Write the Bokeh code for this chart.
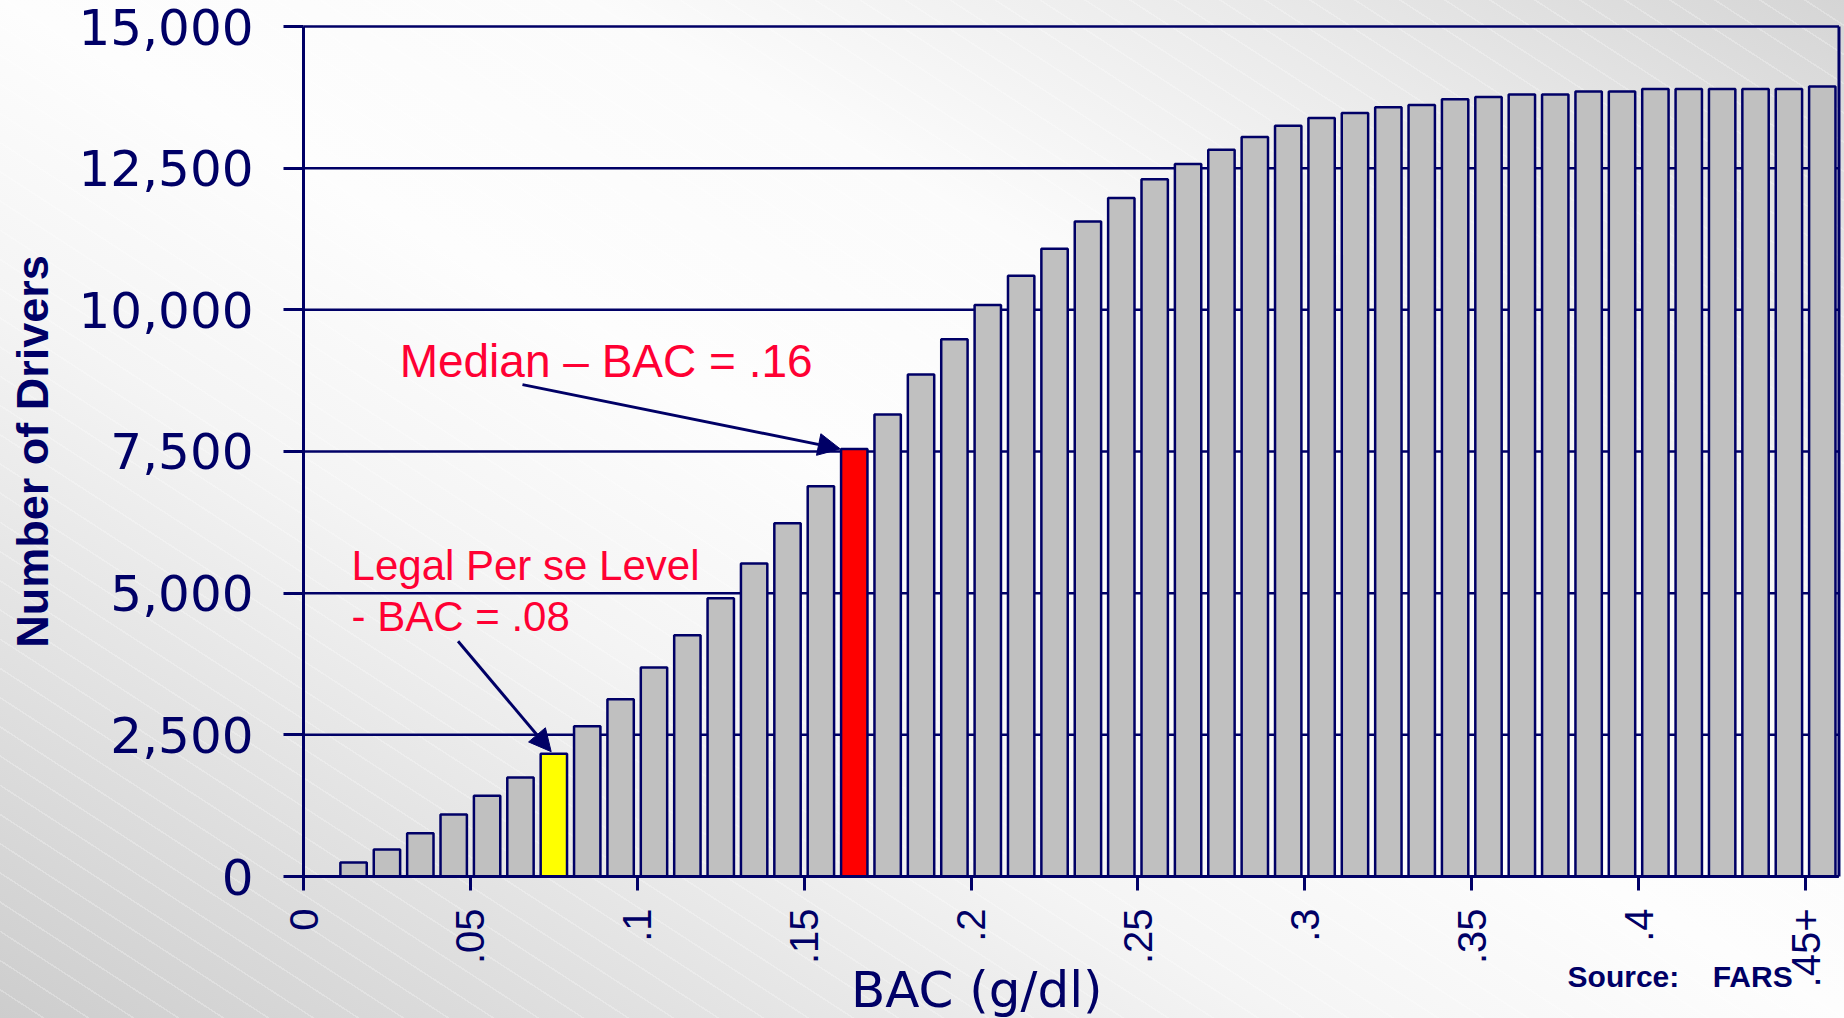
import math

from bokeh.embed import file_html
from bokeh.models import (Arrow, FixedTicker, Label, NormalHead,
                          NumeralTickFormatter, Range1d, ColumnDataSource)
from bokeh.plotting import figure
from bokeh.resources import INLINE

# ---- data: cumulative number of drivers by BAC bin (g/dl) ----
bac_bin = [0.01, 0.02, 0.03, 0.04, 0.05, 0.06, 0.07, 0.08, 0.09, 0.10,
           0.11, 0.12, 0.13, 0.14, 0.15, 0.16, 0.17, 0.18, 0.19, 0.20,
           0.21, 0.22, 0.23, 0.24, 0.25, 0.26, 0.27, 0.28, 0.29, 0.30,
           0.31, 0.32, 0.33, 0.34, 0.35, 0.36, 0.37, 0.38, 0.39, 0.40,
           0.41, 0.42, 0.43, 0.44, 0.45]
drivers = [247, 476, 764, 1094, 1424, 1747, 2168, 2652, 3128, 3687,
           4257, 4910, 5522, 6233, 6886, 7546, 8151, 8860, 9483, 10085,
           10603, 11080, 11558, 11973, 12305, 12575, 12823, 13052, 13250, 13386,
           13474, 13573, 13615, 13714, 13756, 13802, 13802, 13855, 13855, 13897,
           13897, 13897, 13897, 13897, 13943]

x_tick_values = [0, 0.05, 0.1, 0.15, 0.2, 0.25, 0.3, 0.35, 0.4, 0.45]
x_tick_labels = ["0", ".05", ".1", ".15", ".2", ".25", ".3", ".35", ".4", ".45+"]
y_tick_values = [0, 2500, 5000, 7500, 10000, 12500, 15000]
x_max = 0.46

legal_idx = 6     # bar flagged as the legal per se level
median_idx = 15   # bar flagged as the median BAC

NAVY = "#000066"
RED = "#ff0033"
BAR_GREY = "#c0c0c0"

fills = [BAR_GREY] * len(bac_bin)
fills[legal_idx] = "#ffff00"
fills[median_idx] = "#ff0000"

src = ColumnDataSource(dict(
    x=[b + 0.005 for b in bac_bin],
    top=drivers,
    fill=fills,
))

# The plotting frame covers the whole canvas; both axes are pinned at zero so
# that tick labels, titles and notes all live inside the same frame.
p = figure(width=1844, height=1018, output_backend="svg", toolbar_location=None,
           title=None,
           x_range=Range1d(-0.090773, 0.461654),
           y_range=Range1d(-2505.88, 15458.82),
           min_border_left=0, min_border_right=0, min_border_top=0,
           min_border_bottom=0)

p.background_fill_alpha = 0
p.border_fill_alpha = 0
p.outline_line_color = None
p.styles = {
    "background-image": (
        "repeating-linear-gradient(33deg, rgba(255,255,255,0) 0px, "
        "rgba(255,255,255,0) 23px, rgba(255,255,255,0.25) 23px, "
        "rgba(255,255,255,0.25) 24.5px), "
        "linear-gradient(to top right, #cdcdcd 0%, #f4f4f4 35%, #fdfdfd 50%, "
        "#fbfbfb 66%, #e9e9e9 84%, #d5d5d5 100%)"
    ),
}

p.xgrid.grid_line_color = None
p.ygrid.grid_line_color = None

# horizontal value lines (the top one closes the box), drawn behind the bars
p.segment(x0=[0] * len(y_tick_values), x1=[x_max] * len(y_tick_values),
          y0=y_tick_values, y1=y_tick_values, line_color=NAVY, line_width=2.5)
# right-hand border of the chart box
p.segment(x0=[x_max], y0=[y_tick_values[0]], x1=[x_max], y1=[y_tick_values[-1]],
          line_color=NAVY, line_width=3)

p.vbar(x="x", top="top", width=0.0079, bottom=0, source=src,
       fill_color="fill", line_color=NAVY, line_width=2.5)

# ---- axes ----
xa = p.xaxis[0]
xa.fixed_location = 0
xa.bounds = (0, x_max)
xa.ticker = FixedTicker(ticks=x_tick_values)
xa.major_label_overrides = {v: s for v, s in zip(x_tick_values, x_tick_labels)}
xa.major_label_orientation = math.pi / 2
xa.major_label_text_font = "Liberation Sans"
xa.major_label_text_font_size = "40px"
xa.major_label_text_color = NAVY
xa.major_label_standoff = 18
xa.major_tick_out = 14
xa.major_tick_in = 0
xa.minor_tick_line_color = None
xa.major_tick_line_color = NAVY
xa.major_tick_line_width = 3
xa.axis_line_color = NAVY
xa.axis_line_width = 3

ya = p.yaxis[0]
ya.fixed_location = 0
ya.bounds = (y_tick_values[0], y_tick_values[-1])
ya.ticker = FixedTicker(ticks=y_tick_values)
ya.formatter = NumeralTickFormatter(format="0,0")
ya.major_label_text_font = "DejaVu Sans"
ya.major_label_text_font_size = "50px"
ya.major_label_text_color = NAVY
ya.major_label_standoff = 30
ya.major_tick_out = 20
ya.major_tick_in = 0
ya.minor_tick_line_color = None
ya.major_tick_line_color = NAVY
ya.major_tick_line_width = 3
ya.axis_line_color = NAVY
ya.axis_line_width = 3

# axis titles and source note
p.add_layout(Label(x=-0.0812, y=7500, text="Number of Drivers", angle=math.pi / 2,
                   text_font="Liberation Sans", text_font_style="bold",
                   text_font_size="45px", text_color=NAVY,
                   text_align="center", text_baseline="alphabetic"))
p.add_layout(Label(x=0.164, y=-2010, text="BAC (g/dl)", text_font="DejaVu Sans",
                   text_font_size="50px", text_color=NAVY,
                   text_baseline="alphabetic"))
p.add_layout(Label(x=0.3787, y=-1764, text="Source:\u00a0\u00a0\u00a0\u00a0FARS",
                   text_font="Liberation Sans", text_font_style="bold",
                   text_font_size="30px", text_color=NAVY,
                   text_baseline="alphabetic"))

# ---- call-outs ----
p.add_layout(Label(x=0.0288, y=9100, text="Median \u2013 BAC = .16",
                   text_font="Liberation Sans", text_font_size="46px",
                   text_color=RED, text_baseline="alphabetic"))
p.add_layout(Label(x=0.0144, y=5480, text="Legal Per se Level",
                   text_font="Liberation Sans", text_font_size="42px",
                   text_color=RED, text_baseline="alphabetic"))
p.add_layout(Label(x=0.0144, y=4580, text="- BAC = .08",
                   text_font="Liberation Sans", text_font_size="42px",
                   text_color=RED, text_baseline="alphabetic"))

head_kw = dict(size=22, fill_color=NAVY, line_color=NAVY)
p.add_layout(Arrow(x_start=0.0656, y_start=8680,
                   x_end=bac_bin[median_idx] + 0.0008, y_end=drivers[median_idx],
                   line_color=NAVY, line_width=3, end=NormalHead(**head_kw)))
p.add_layout(Arrow(x_start=0.0463, y_start=4150,
                   x_end=bac_bin[legal_idx] + 0.0042, y_end=drivers[legal_idx] + 35,
                   line_color=NAVY, line_width=3, end=NormalHead(**head_kw)))

open("out.html", "w").write(file_html(p, INLINE))
